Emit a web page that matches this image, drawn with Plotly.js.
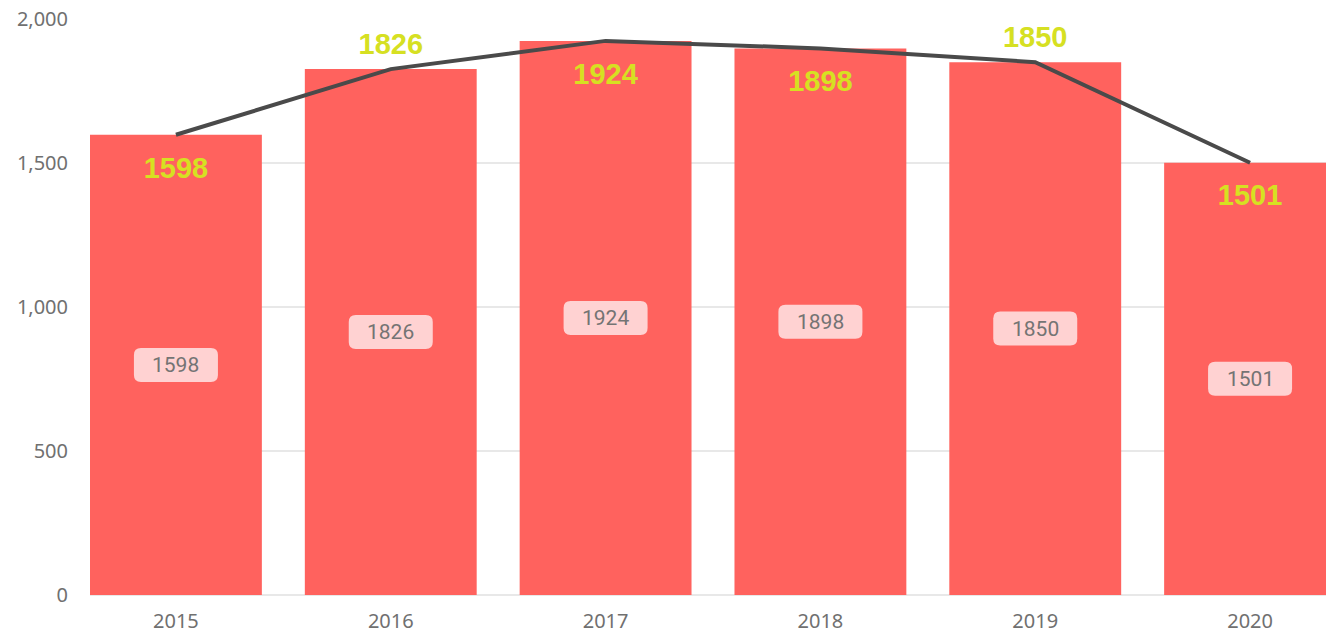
<!DOCTYPE html>
<html>
<head>
<meta charset="utf-8">
<script src="https://cdn.plot.ly/plotly-3.0.1.min.js"></script>
<style>
html,body{margin:0;padding:0;overflow:hidden;background:#fff;}
#chart{width:1336px;height:634px;}
</style>
</head>
<body>
<div id="chart"></div>
<script>
// Data
const years = ['2015', '2016', '2017', '2018', '2019', '2020'];
const barValues = [1598, 1826, 1924, 1898, 1850, 1501];
const lineValues = [1598, 1826, 1924, 1898, 1850, 1501];
const yTickValues = [0, 500, 1000, 1500, 2000];

// Styles
const barColor = '#FF625E';
const lineColor = '#4A4A4A';
const labelYellow = '#D6E022';
const pillColor = '#FFD2D2';
const pillText = '#747474';
const labelSides = ['bottom center', 'top center', 'bottom center', 'bottom center', 'top center', 'bottom center'];
const labelGaps = labelSides.map(s => s.indexOf('top') === 0 ? 11 : 32);

const barTrace = {
  type: 'bar',
  x: years,
  y: barValues,
  marker: {color: barColor},
  hoverinfo: 'skip'
};

const lineTrace = {
  type: 'scatter',
  mode: 'lines+markers+text',
  x: years,
  y: lineValues,
  line: {color: lineColor, width: 4},
  marker: {size: labelGaps, opacity: 0, color: lineColor},
  text: lineValues.map(String),
  textposition: labelSides,
  textfont: {family: 'Liberation Sans, Arial, sans-serif', size: 29, color: labelYellow, weight: 'bold'},
  cliponaxis: false,
  hoverinfo: 'skip'
};

// Rounded pill shapes anchored at bar mid-heights (pixel-sized)
function roundedRect(w, h, r) {
  const x0 = -w / 2, x1 = w / 2, y0 = -h / 2, y1 = h / 2;
  return 'M ' + (x0 + r) + ',' + y0 + ' L ' + (x1 - r) + ',' + y0 + ' Q ' + x1 + ',' + y0 + ' ' + x1 + ',' + (y0 + r) +
         ' L ' + x1 + ',' + (y1 - r) + ' Q ' + x1 + ',' + y1 + ' ' + (x1 - r) + ',' + y1 +
         ' L ' + (x0 + r) + ',' + y1 + ' Q ' + x0 + ',' + y1 + ' ' + x0 + ',' + (y1 - r) +
         ' L ' + x0 + ',' + (y0 + r) + ' Q ' + x0 + ',' + y0 + ' ' + (x0 + r) + ',' + y0 + ' Z';
}
const pillPath = roundedRect(84, 34, 7);

const shapes = years.map((yr, i) => ({
  type: 'path',
  xref: 'x', yref: 'y',
  xsizemode: 'pixel', ysizemode: 'pixel',
  xanchor: i, yanchor: barValues[i] / 2,
  path: pillPath,
  fillcolor: pillColor,
  line: {width: 0},
  layer: 'above'
}));

const annotations = years.map((yr, i) => ({
  x: i, y: barValues[i] / 2,
  xref: 'x', yref: 'y',
  text: String(barValues[i]),
  showarrow: false,
  font: {family: 'Roboto, Noto Sans, sans-serif', size: 21, color: pillText},
  xanchor: 'center', yanchor: 'middle'
}));

const layout = {
  width: 1336,
  height: 634,
  margin: {l: 90, r: 0, t: 19, b: 39},
  paper_bgcolor: '#ffffff',
  plot_bgcolor: '#ffffff',
  showlegend: false,
  bargap: 0.2,
  xaxis: {
    type: 'category',
    range: [-0.4, 5.4],
    showgrid: false,
    zeroline: false,
    showline: false,
    ticks: 'outside',
    ticklen: 8,
    tickcolor: 'rgba(0,0,0,0)',
    tickfont: {family: 'Noto Sans, Open Sans, sans-serif', size: 20, color: '#707070'},
    fixedrange: true
  },
  yaxis: {
    range: [0, 2000],
    tickvals: yTickValues,
    tickformat: ',d',
    showgrid: true,
    gridcolor: '#E8E8E8',
    gridwidth: 2,
    zeroline: true,
    zerolinecolor: '#E8E8E8',
    zerolinewidth: 2,
    showline: false,
    ticks: 'outside',
    ticklen: 17,
    tickcolor: 'rgba(0,0,0,0)',
    tickfont: {family: 'Noto Sans, Open Sans, sans-serif', size: 20, color: '#707070'},
    fixedrange: true
  },
  shapes: shapes,
  annotations: annotations
};

Plotly.newPlot('chart', [barTrace, lineTrace], layout, {displayModeBar: false, staticPlot: true});
</script>
</body>
</html>
